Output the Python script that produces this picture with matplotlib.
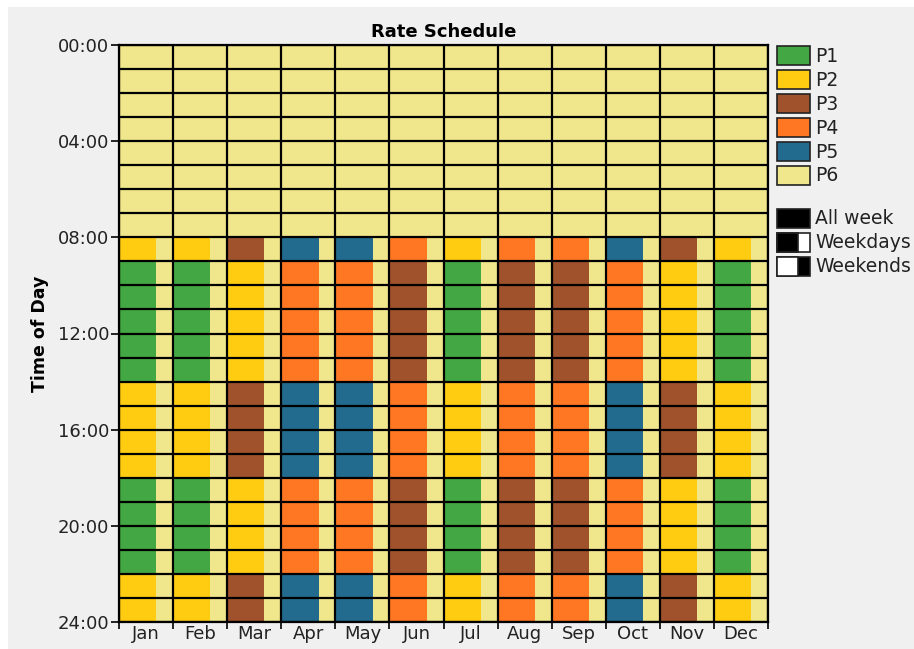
import matplotlib.pyplot as plt
from matplotlib.patches import Rectangle

months = ["Jan", "Feb", "Mar", "Apr", "May", "Jun", "Jul", "Aug", "Sep", "Oct", "Nov", "Dec"]
period_names = ["P1", "P2", "P3", "P4", "P5", "P6"]
period_colors = ["#43a843", "#ffcc11", "#a0522d", "#ff7722", "#236b8e", "#f0e68c"]

# which block each hour of the day belongs to (0 night, 1 shoulder, 2 peak)
hour_block = [0] * 8 + [1] + [2] * 5 + [1] * 4 + [2] * 4 + [1] * 2
# weekday period per month for each block
night_period = [6, 6, 6, 6, 6, 6, 6, 6, 6, 6, 6, 6]
shoulder_period = [2, 2, 3, 5, 5, 4, 2, 4, 4, 5, 3, 2]
peak_period = [1, 1, 2, 4, 4, 3, 1, 3, 3, 4, 2, 1]
weekend_period = 6
blocks = [night_period, shoulder_period, peak_period]

weekday_frac = 0.69
W, H = 914, 649

fig = plt.figure(figsize=(W / 100, H / 100), dpi=100)
fig.patch.set_facecolor("white")
fig.patches.append(Rectangle((8 / W, 0), 1, 1 - 7 / H, transform=fig.transFigure,
                             facecolor="#f0f0f0", edgecolor="none", zorder=-10))

ax = fig.add_axes([119 / W, 1 - 622 / H, (768 - 119) / W, (622 - 45) / H])

for h in range(24):
    periods = blocks[hour_block[h]]
    x = list(range(12))
    ax.bar(x, 1, bottom=h, width=weekday_frac, align="edge",
           color=[period_colors[p - 1] for p in periods], linewidth=0)
    ax.bar([m + weekday_frac for m in x], 1, bottom=h, width=1 - weekday_frac, align="edge",
           color=period_colors[weekend_period - 1], linewidth=0)

ax.hlines(range(25), 0, 12, color="black", linewidth=1.6)
ax.vlines(range(13), 0, 24, color="black", linewidth=1.6)

ax.set_xlim(0, 12)
ax.set_ylim(24, 0)
ax.set_xticks(range(13))
ax.set_xticklabels([])
ax.set_xticks([m + 0.5 for m in range(12)], minor=True)
ax.set_xticklabels(months, minor=True, fontsize=13, color="#222222")
ax.tick_params(axis="x", which="major", length=5, width=1.2, direction="out")
ax.tick_params(axis="x", which="minor", length=0, pad=2)
ax.set_yticks(range(0, 25, 4))
ax.set_yticklabels([f"{h:02d}:00" for h in range(0, 25, 4)], fontsize=13, color="#222222")
ax.tick_params(axis="y", length=6, width=1.2, pad=1)
for s in ax.spines.values():
    s.set_linewidth(1.6)

ax.set_title("Rate Schedule", fontsize=13, fontweight="bold", pad=6)
ax.set_ylabel("Time of Day", fontsize=12.5, fontweight="bold", labelpad=6)

# legend drawn by hand
def box(x, y, w, h, color):
    fig.patches.append(Rectangle((x / W, 1 - (y + h) / H), w / W, h / H, transform=fig.transFigure,
                                 facecolor=color, edgecolor="#222222", linewidth=1.2))

for i, (name, c) in enumerate(zip(period_names, period_colors)):
    y = 46 + i * 24
    box(777, y, 33, 19, c)
    fig.text(815 / W, 1 - (y + 10) / H, name, fontsize=13.5, va="center", color="#222222")

key_labels = ["All week", "Weekdays", "Weekends"]
for i, lab in enumerate(key_labels):
    y = 209 + i * 24
    if i == 0:
        box(777, y, 33, 19, "black")
    elif i == 1:
        box(777, y, 33, 19, "white")
        box(777, y, 21, 19, "black")
    else:
        box(777, y, 33, 19, "black")
        box(777, y, 21, 19, "white")
    fig.text(815 / W, 1 - (y + 10) / H, lab, fontsize=13.5, va="center", color="#222222")

fig.savefig("out.png", dpi=100)
